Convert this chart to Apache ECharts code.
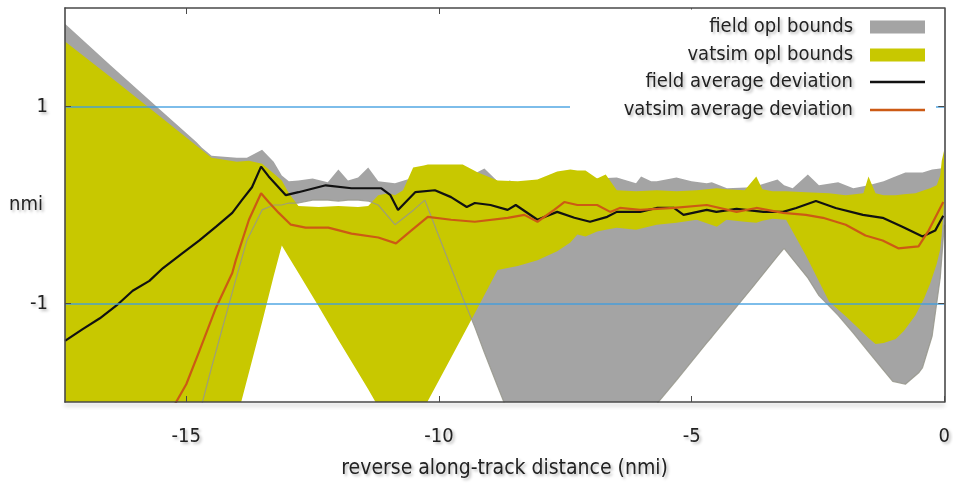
<!DOCTYPE html>
<html><head><meta charset="utf-8">
<script src="https://cdn.jsdelivr.net/npm/echarts@6/dist/echarts.min.js"></script>
<style>html,body{margin:0;padding:0;background:#fff}#c{width:953px;height:484px}</style>
</head><body><div id="c"></div>
<script>
// ---- data ----
const fieldX  = [-17.4,-16.5,-15.5,-14.8,-14.69,-14.5,-14.0,-13.8,-13.5,-13.27,-13.11,-12.97,-12.78,-12.5,-12.2,-11.99,-11.8,-11.6,-11.4,-11.2,-10.87,-10.5,-10.28,-10.0,-9.53,-9.29,-9.1,-8.84,-8.7,-8.6,-8.3,-8.05,-7.66,-7.26,-6.87,-6.48,-6.1,-6.0,-5.8,-5.69,-5.3,-5.0,-4.7,-4.6,-4.3,-3.8,-3.3,-3.17,-3.0,-2.7,-2.48,-2.1,-1.8,-1.5,-1.2,-1.02,-0.77,-0.5,-0.43,-0.24,-0.08,0];
const fieldHi = [1.84,1.42,0.96,0.64,0.58,0.50,0.48,0.48,0.56,0.44,0.30,0.24,0.25,0.27,0.23,0.36,0.25,0.28,0.38,0.24,0.22,0.28,0.30,0.30,0.33,0.32,0.37,0.24,0.22,0.25,0.20,0.22,0.26,0.28,0.27,0.28,0.22,0.29,0.24,0.24,0.28,0.24,0.22,0.23,0.17,0.18,0.26,0.20,0.17,0.31,0.20,0.23,0.17,0.20,0.24,0.28,0.33,0.33,0.33,0.36,0.37,0.38];
const fieldLo = [-2.5,-2.5,-2.5,-2.45,-2.02,-1.65,-0.72,-0.36,-0.05,0.0,0.0,0.02,0.02,0.05,0.05,0.04,0.05,0.05,0.04,0.0,-0.2,-0.05,0.05,-0.32,-0.94,-1.24,-1.50,-1.84,-2.02,-2.5,-2.5,-2.5,-2.5,-2.5,-2.5,-2.5,-2.5,-2.5,-2.5,-2.02,-1.78,-1.59,-1.40,-1.34,-1.15,-0.84,-0.52,-0.44,-0.55,-0.74,-0.92,-1.12,-1.30,-1.49,-1.68,-1.79,-1.82,-1.70,-1.65,-1.33,-0.74,-0.2];

const vatX  = [-17.4,-16.5,-15.5,-14.5,-14.0,-13.76,-13.5,-13.27,-13.11,-12.97,-12.78,-12.38,-11.99,-11.6,-11.4,-11.2,-11.0,-10.87,-10.71,-10.51,-10.3,-10.22,-10.02,-9.53,-9.23,-8.84,-8.44,-8.05,-7.66,-7.4,-7.26,-7.1,-6.87,-6.7,-6.48,-6.1,-5.69,-5.3,-4.9,-4.5,-4.31,-3.95,-3.72,-3.6,-3.4,-3.13,-2.74,-2.28,-1.95,-1.6,-1.5,-1.36,-1.2,-0.96,-0.8,-0.57,-0.4,-0.28,-0.15,-0.08,-0.05,0];
const vatHi = [1.66,1.30,0.89,0.48,0.44,0.45,0.42,0.32,0.25,0.12,-0.01,-0.02,-0.01,-0.02,-0.01,0.10,0.12,0.10,0.15,0.38,0.40,0.41,0.41,0.41,0.33,0.25,0.24,0.26,0.34,0.36,0.35,0.35,0.27,0.31,0.15,0.14,0.15,0.14,0.15,0.17,0.16,0.15,0.29,0.16,0.14,0.14,0.13,0.12,0.10,0.12,0.29,0.12,0.10,0.10,0.11,0.12,0.15,0.17,0.20,0.30,0.45,0.56];
const vatLo = [-2.5,-2.5,-2.5,-2.5,-2.17,-1.70,-1.19,-0.72,-0.41,-0.53,-0.69,-1.03,-1.37,-1.70,-1.87,-2.05,-2.3,-2.5,-2.5,-2.5,-2.15,-1.99,-1.80,-1.33,-1.04,-0.66,-0.62,-0.56,-0.47,-0.38,-0.30,-0.32,-0.27,-0.25,-0.23,-0.25,-0.20,-0.18,-0.15,-0.22,-0.15,-0.17,-0.18,-0.16,-0.14,-0.15,-0.51,-0.98,-1.13,-1.30,-1.35,-1.41,-1.40,-1.36,-1.28,-1.12,-0.95,-0.80,-0.60,-0.45,-0.30,0.05];

const fieldAvgX = [-17.40,-17.05,-16.71,-16.38,-16.06,-15.73,-15.46,-15.08,-14.74,-14.41,-14.09,-13.90,-13.70,-13.52,-13.37,-13.03,-12.78,-12.24,-11.73,-11.14,-10.96,-10.81,-10.47,-10.08,-9.76,-9.45,-9.29,-8.98,-8.64,-8.48,-8.05,-7.66,-7.32,-7.01,-6.67,-6.48,-6.02,-5.69,-5.35,-5.16,-4.70,-4.51,-4.11,-3.58,-3.19,-2.93,-2.54,-2.15,-1.61,-1.22,-0.83,-0.43,-0.18,-0.02];
const fieldAvgY = [-1.38,-1.26,-1.15,-1.02,-0.87,-0.77,-0.64,-0.49,-0.36,-0.22,-0.08,0.05,0.18,0.39,0.29,0.10,0.13,0.20,0.17,0.17,0.10,-0.05,0.13,0.15,0.08,-0.02,0.02,0.0,-0.05,0.0,-0.15,-0.07,-0.13,-0.17,-0.12,-0.07,-0.07,-0.03,-0.03,-0.10,-0.05,-0.07,-0.04,-0.07,-0.07,-0.03,0.04,-0.03,-0.10,-0.13,-0.22,-0.32,-0.26,-0.11];

const vatAvgX = [-15.30,-15.00,-14.74,-14.41,-14.09,-14.02,-13.76,-13.52,-13.37,-13.17,-12.93,-12.64,-12.19,-11.73,-11.20,-10.85,-10.55,-10.22,-9.76,-9.29,-8.64,-8.31,-8.05,-7.72,-7.52,-7.26,-6.87,-6.61,-6.42,-6.02,-5.35,-4.70,-4.11,-3.72,-3.19,-2.74,-2.40,-1.95,-1.56,-1.22,-0.91,-0.51,-0.31,-0.02];
const vatAvgY = [-2.09,-1.82,-1.48,-1.04,-0.69,-0.56,-0.15,0.12,0.03,-0.08,-0.20,-0.23,-0.23,-0.29,-0.33,-0.39,-0.26,-0.12,-0.15,-0.17,-0.13,-0.10,-0.17,-0.05,0.03,0.0,0.0,-0.07,-0.03,-0.05,-0.03,0.0,-0.07,-0.03,-0.08,-0.10,-0.13,-0.20,-0.31,-0.36,-0.44,-0.42,-0.26,0.03];

const xTickValues = [-15,-10,-5,0];
const xTopTickValues = [-15,-10,-5];
const yLabelValues = [-1,0,1];
const yTickValues = [-1,1];
const yGridValues = [1,-1];
const names = ['field opl bounds','vatsim opl bounds','field average deviation','vatsim average deviation'];
const xTitle = 'reverse along-track distance (nmi)';
const yTitle = 'nmi';

// ---- build ----
const pairs = (xs, ys) => xs.map((x, i) => [x, ys[i]]);

const FONT = "'DejaVu Sans Condensed','DejaVu Sans',sans-serif";
const TXT = '#222';
const shadow = {textShadowColor:'rgba(0,0,0,0.28)', textShadowBlur:3, textShadowOffsetX:2, textShadowOffsetY:2};
const GRAY = '#a4a4a4', YEL = '#c8c800', BLK = '#111111', ORG = '#cc5a14', BLUE = '#3f9de0', FRAME = '#4a4a4a';

function bandSeries(name, xs, hi, lo, color) {
  return {
    type:'custom', name:name, silent:true, clip:true,
    itemStyle:{color:color},
    data:[[xs[0], hi[0]]],
    renderItem:function(params, api) {
      if (params.dataIndex !== 0) return;
      const pts = [];
      for (let i = 0; i < xs.length; i++) pts.push(api.coord([xs[i], hi[i]]));
      for (let i = xs.length - 1; i >= 0; i--) pts.push(api.coord([xs[i], lo[i]]));
      const cs = params.coordSys;
      return {type:'polygon', shape:{points:pts}, style:{fill:color},
              clipPath:{type:'rect', shape:{x:cs.x, y:cs.y, width:cs.width, height:cs.height}}};
    }
  };
}

const chart = echarts.init(document.getElementById('c'), null, {renderer:'canvas'});
const legendText = Object.assign({fontSize:20, lineHeight:26, color:TXT, fontFamily:FONT, padding:[0,12,0,0]}, shadow);

chart.setOption({
  animation:false,
  backgroundColor:'#fff',
  grid:{left:65, right:4, top:8, bottom:81, containLabel:false},
  xAxis:[
    {type:'value', min:-17.4, max:0, position:'bottom', z:10,
     axisLine:{show:true, onZero:false, lineStyle:{color:FRAME, width:1.6, shadowColor:'rgba(0,0,0,0.3)', shadowBlur:4, shadowOffsetY:3}},
     axisTick:{show:true, inside:true, length:6, customValues:xTickValues, lineStyle:{color:FRAME}},
     axisLabel:Object.assign({customValues:xTickValues, fontSize:20, color:TXT, fontFamily:FONT, margin:25}, shadow),
     splitLine:{show:false},
     name:xTitle, nameLocation:'middle', nameGap:56,
     nameTextStyle:Object.assign({fontSize:21, color:TXT, fontFamily:FONT}, shadow)},
    {type:'value', min:-17.4, max:0, position:'top', z:10,
     axisLine:{show:true, onZero:false, lineStyle:{color:FRAME, width:1.6}},
     axisTick:{show:true, inside:true, length:6, customValues:xTopTickValues, lineStyle:{color:FRAME}},
     axisLabel:{show:false}, splitLine:{show:false}}
  ],
  yAxis:[
    {type:'value', min:-2, max:2, position:'left', z:10,
     axisLine:{show:true, onZero:false, lineStyle:{color:FRAME, width:1.6}},
     axisTick:{show:true, inside:true, length:6, customValues:yTickValues, lineStyle:{color:FRAME}},
     axisLabel:Object.assign({customValues:yLabelValues, fontSize:20, color:TXT, fontFamily:FONT, margin:17,
       formatter:v => v === 0 ? '{n|' + yTitle + '}' : String(v),
       rich:{n:{fontSize:20, fontFamily:FONT, color:TXT, padding:[0,5,0,0]}}}, shadow),
     splitLine:{show:false}},
    {type:'value', min:-2, max:2, position:'right', z:10,
     axisLine:{show:true, onZero:false, lineStyle:{color:FRAME, width:1.6}},
     axisTick:{show:true, inside:true, length:6, customValues:yTickValues, lineStyle:{color:FRAME}},
     axisLabel:{show:false}, splitLine:{show:false}}
  ],
  graphic:[{type:'rect', silent:true, z:15, shape:{x:570, y:9.5, width:366, height:116}, style:{fill:'#fff'}}],
  legend:[
    {data:[names[0], names[1]], orient:'vertical', align:'right', right:28, top:14, padding:0, itemGap:2,
     itemWidth:55, itemHeight:13, icon:'rect', selectedMode:false, z:20, textStyle:legendText},
    {data:[names[2], names[3]], orient:'vertical', align:'right', right:28, top:69, padding:0, itemGap:2,
     itemWidth:55, itemHeight:2.5, icon:'rect', selectedMode:false, z:20, textStyle:legendText}
  ],
  series:[
    bandSeries(names[0], fieldX, fieldHi, fieldLo, GRAY),
    bandSeries(names[1], vatX, vatHi, vatLo, YEL),
    {type:'line', name:'field lower edge', data:pairs(fieldX, fieldLo), symbol:'none', silent:true,
     lineStyle:{color:'rgba(150,150,140,0.85)', width:1.2}, itemStyle:{color:GRAY}},
    {type:'line', name:names[2], data:pairs(fieldAvgX, fieldAvgY), symbol:'none',
     itemStyle:{color:BLK}, lineStyle:{color:BLK, width:2.2}, silent:true},
    {type:'line', name:names[3], data:pairs(vatAvgX, vatAvgY), symbol:'none',
     itemStyle:{color:ORG}, lineStyle:{color:ORG, width:2.2}, silent:true,
     markLine:{silent:true, symbol:['none','none'], label:{show:false}, animation:false,
       lineStyle:{color:BLUE, width:1.6, type:'solid', opacity:0.9},
       data:yGridValues.map(v => ({yAxis:v}))}}
  ]
});
</script></body></html>
